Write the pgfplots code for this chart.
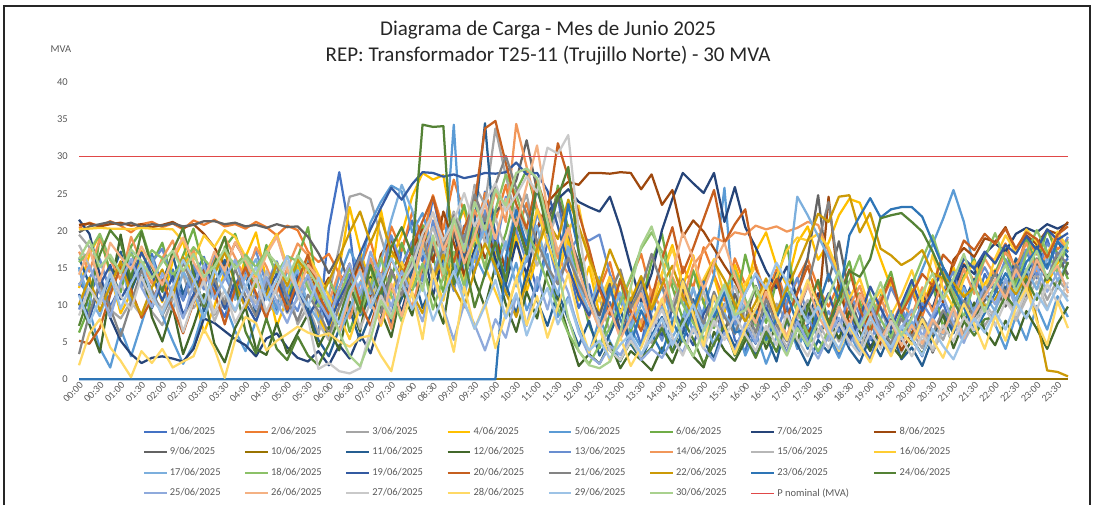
\documentclass[border=0pt]{standalone}
\usepackage{fontspec}
\setmainfont{Carlito}
\usepackage{pgfplots}
\pgfplotsset{compat=1.18}
\pgfplotsset{legend image code/.code={\draw[#1] (0pt,0pt) -- (15pt,0pt);}}

\definecolor{c1}{HTML}{4472C4}\definecolor{c2}{HTML}{ED7D31}\definecolor{c3}{HTML}{A5A5A5}
\definecolor{c4}{HTML}{FFC000}\definecolor{c5}{HTML}{5B9BD5}\definecolor{c6}{HTML}{70AD47}
\definecolor{c7}{HTML}{264478}\definecolor{c8}{HTML}{9E480E}\definecolor{c9}{HTML}{636363}
\definecolor{c10}{HTML}{997300}\definecolor{c11}{HTML}{255E91}\definecolor{c12}{HTML}{43682B}
\definecolor{c13}{HTML}{698ED0}\definecolor{c14}{HTML}{F1975A}\definecolor{c15}{HTML}{B7B7B7}
\definecolor{c16}{HTML}{FFCD33}\definecolor{c17}{HTML}{7CAFDD}\definecolor{c18}{HTML}{8CC168}
\definecolor{c19}{HTML}{335AA1}\definecolor{c20}{HTML}{C65F1F}\definecolor{c21}{HTML}{848484}
\definecolor{c22}{HTML}{CC9A06}\definecolor{c23}{HTML}{2E75B6}\definecolor{c24}{HTML}{548235}
\definecolor{c25}{HTML}{8FAADC}\definecolor{c26}{HTML}{F4B183}\definecolor{c27}{HTML}{C9C9C9}
\definecolor{c28}{HTML}{FFD966}\definecolor{c29}{HTML}{9DC3E6}\definecolor{c30}{HTML}{A9D18E}
\definecolor{cred}{HTML}{E04848}
\definecolor{txt}{HTML}{595959}

% one series = 96 quarter-hour values
\newcommand{\ser}[2]{\addplot[#1] table[x expr=\coordindex, y index=0, header=false, row sep=\\] {#2};}

\begin{document}
\begin{tikzpicture}
\begin{axis}[
    name=ax, at={(0,0)}, anchor=south west,
    scale only axis, width=659.3pt, height=198pt,
    xmin=0, xmax=95, ymin=0, ymax=40, clip=false,
    axis line style={draw=none}, major tick length=0pt,
    ytick={0,5,...,40},
    xtick={0,2,...,94},
    xticklabels={00:00,00:30,01:00,01:30,02:00,02:30,03:00,03:30,04:00,04:30,05:00,05:30,
      06:00,06:30,07:00,07:30,08:00,08:30,09:00,09:30,10:00,10:30,11:00,11:30,
      12:00,12:30,13:00,13:30,14:00,14:30,15:00,15:30,16:00,16:30,17:00,17:30,
      18:00,18:30,19:00,19:30,20:00,20:30,21:00,21:30,22:00,22:30,23:00,23:30},
    xticklabel style={rotate=45, anchor=north east, font=\fontsize{6.8}{7.5}\selectfont, text=txt, inner sep=0.8pt},
    yticklabel style={font=\fontsize{7}{8}\selectfont, text=txt, xshift=-4pt},
    /pgf/number format/assume math mode=true,
    every axis plot/.append style={line width=1.5pt, line join=round},
    legend columns=8, legend cell align=left,
    legend style={at={(0.474,0)}, anchor=north, yshift=-28pt, draw=none, fill=none,
      font=\fontsize{7}{8}\selectfont, text=txt, row sep=4.3pt,
      nodes={inner sep=1.5pt},
      /tikz/every even column/.append style={column sep=14.2pt}},
    legend entries={1/06/2025,2/06/2025,3/06/2025,4/06/2025,5/06/2025,6/06/2025,7/06/2025,8/06/2025,
      9/06/2025,10/06/2025,11/06/2025,12/06/2025,13/06/2025,14/06/2025,15/06/2025,16/06/2025,
      17/06/2025,18/06/2025,19/06/2025,20/06/2025,21/06/2025,22/06/2025,23/06/2025,24/06/2025,
      25/06/2025,26/06/2025,27/06/2025,28/06/2025,29/06/2025,30/06/2025,P nominal (MVA)},
]
\ser{c1}{13.0\\11.5\\14.2\\9.8\\12.5\\15.8\\13.1\\16.9\\
12.4\\14.8\\10.6\\13.9\\16.5\\11.2\\8.4\\12.7\\
15.3\\10.9\\13.6\\9.2\\11.8\\14.4\\8.7\\6.1\\
20.4\\27.9\\19.9\\8.6\\10.9\\14.3\\8.2\\17.6\\
21.4\\15.9\\24.6\\18.2\\13.5\\20.7\\16.4\\25.3\\
19.8\\14.6\\22.1\\17.3\\11.9\\18.5\\24.7\\15.2\\
9.6\\12.8\\7.3\\10.4\\5.9\\8.8\\4.6\\11.3\\
6.2\\9.7\\13.5\\8.1\\4.9\\7.6\\11.8\\5.3\\
3.8\\8.5\\12.2\\6.7\\9.9\\4.1\\7.4\\10.8\\
6.3\\3.2\\8.9\\5.1\\2.7\\6.8\\4.4\\9.2\\
5.6\\3.1\\7.9\\10.3\\6.5\\12.6\\9.1\\14.2\\
11.7\\15.8\\10.2\\17.4\\13.6\\18.9\\14.8\\16.3\\}
\ser{c2}{20.4\\21.1\\20.6\\21.3\\20.7\\19.8\\20.9\\21.2\\
20.5\\21.0\\20.2\\21.4\\20.8\\21.5\\20.6\\20.9\\
20.3\\21.2\\20.5\\19.4\\20.7\\20.1\\17.2\\15.8\\
16.9\\14.2\\12.5\\15.1\\18.7\\13.4\\20.6\\17.3\\
22.5\\19.1\\24.8\\20.2\\26.9\\22.4\\18.7\\25.1\\
21.3\\26.2\\19.5\\23.8\\17.6\\22.9\\16.4\\20.8\\
14.5\\17.2\\12.1\\15.8\\10.3\\13.6\\16.9\\11.4\\
13.8\\9.7\\15.2\\12.4\\17.8\\14.1\\10.6\\16.3\\
12.7\\15.4\\11.2\\14.8\\10.1\\13.5\\16.2\\12.3\\
9.8\\12.9\\8.4\\11.6\\7.1\\10.2\\13.4\\9.3\\
11.8\\8.5\\12.4\\14.7\\10.9\\15.6\\13.2\\17.1\\
15.9\\18.3\\14.6\\19.2\\16.8\\20.1\\17.5\\18.9\\}
\ser{c3}{19.5\\17.8\\12.6\\9.4\\8.2\\10.5\\13.9\\9.1\\
7.3\\10.8\\14.2\\9.6\\11.4\\8.7\\10.2\\12.5\\
9.8\\11.6\\8.9\\10.3\\12.7\\7.4\\9.9\\6.2\\
11.4\\17.8\\24.6\\25.0\\24.3\\19.2\\14.5\\11.8\\
16.3\\20.7\\13.9\\18.4\\22.6\\17.1\\26.2\\23.5\\
33.8\\27.4\\21.6\\24.9\\18.3\\22.1\\16.8\\19.5\\
12.2\\8.6\\10.9\\6.4\\9.3\\5.7\\8.1\\4.9\\
7.2\\10.5\\6.3\\9.1\\5.2\\8.4\\11.7\\7.6\\
5.4\\8.9\\6.1\\10.2\\7.7\\4.6\\9.3\\6.5\\
8.2\\5.1\\7.4\\4.3\\6.9\\9.8\\5.6\\3.7\\
6.4\\4.2\\7.8\\5.3\\8.9\\6.1\\10.4\\7.2\\
9.5\\12.1\\8.3\\11.6\\14.2\\10.7\\13.4\\11.9\\}
\ser{c4}{12.3\\16.8\\19.5\\14.2\\8.9\\11.6\\17.3\\13.8\\
10.4\\15.9\\18.7\\12.1\\6.3\\9.8\\14.6\\11.2\\
16.5\\19.8\\13.4\\7.2\\10.9\\15.3\\12.7\\8.4\\
5.6\\14.9\\23.2\\17.4\\12.8\\22.8\\16.1\\19.5\\
24.6\\27.8\\26.9\\27.5\\19.3\\23.1\\15.8\\21.7\\
17.2\\13.6\\19.4\\11.8\\16.5\\22.3\\14.1\\18.9\\
10.6\\15.2\\8.7\\13.9\\11.4\\7.5\\12.8\\9.6\\
14.3\\18.1\\12.5\\16.7\\10.2\\13.8\\8.9\\15.4\\
11.6\\17.2\\19.8\\15.3\\12.7\\18.4\\20.6\\16.1\\
18.4\\22.1\\24.3\\23.8\\20.1\\16.2\\12.4\\9.6\\
12.2\\9.8\\13.5\\10.6\\15.1\\11.4\\8.7\\12.9\\
14.8\\11.3\\16.2\\13.7\\18.5\\12.9\\15.6\\17.8\\}
\ser{c5}{15.1\\9.3\\4.2\\1.6\\6.8\\3.1\\7.5\\11.9\\
8.6\\5.2\\2.1\\4.7\\9.4\\13.2\\10.1\\6.5\\
3.8\\7.9\\12.4\\9.6\\14.8\\11.1\\16.3\\12.7\\
9.2\\13.8\\17.5\\14.6\\21.1\\23.9\\26.1\\25.3\\
19.8\\22.4\\17.6\\14.9\\34.3\\12.1\\16.8\\13.9\\
18.2\\11.4\\15.7\\9.3\\12.6\\16.9\\8.4\\11.1\\
6.8\\3.5\\8.2\\5.1\\2.4\\6.7\\4.3\\9.1\\
12.5\\7.8\\11.3\\6.2\\9.4\\14.1\\25.8\\8.6\\
3.2\\6.4\\2.1\\5.7\\8.3\\4.2\\7.1\\3.5\\
5.8\\2.9\\6.3\\3.4\\7.6\\4.8\\9.2\\6.1\\
11.3\\14.8\\18.2\\21.6\\25.5\\21.2\\14.8\\9.7\\
7.4\\4.1\\8.6\\5.3\\9.9\\6.7\\11.2\\8.4\\}
\ser{c6}{6.3\\9.8\\19.2\\14.5\\11.7\\17.9\\20.1\\15.6\\
18.4\\13.2\\16.7\\20.3\\14.9\\11.5\\17.8\\19.6\\
15.2\\12.4\\18.1\\13.7\\9.6\\16.4\\20.5\\11.3\\
8.7\\12.1\\6.4\\10.8\\15.3\\9.2\\13.6\\18.4\\
14.2\\20.8\\16.5\\11.7\\19.3\\23.5\\17.8\\21.6\\
15.4\\19.7\\25.3\\28.2\\22.6\\18.4\\26.1\\20.3\\
12.7\\7.3\\4.2\\8.9\\13.6\\6.5\\10.2\\15.8\\
19.6\\12.4\\8.1\\14.7\\10.3\\6.9\\12.5\\9.2\\
16.8\\11.4\\7.6\\13.2\\18.1\\9.8\\5.4\\10.7\\
7.3\\12.6\\15.9\\10.4\\6.8\\11.2\\14.5\\8.7\\
5.9\\9.4\\12.8\\7.1\\10.6\\13.9\\16.2\\11.5\\
14.3\\17.6\\12.9\\19.1\\15.4\\20.2\\16.8\\13.5\\}
\ser{c7}{21.5\\19.6\\14.1\\8.3\\5.2\\3.4\\2.2\\2.9\\
3.1\\2.8\\2.4\\4.1\\8.2\\7.6\\6.5\\5.4\\
4.6\\3.1\\5.5\\6.2\\4.3\\2.9\\2.4\\3.8\\
1.9\\4.6\\2.8\\6.1\\3.5\\8.2\\12.4\\9.1\\
14.6\\18.3\\11.2\\16.7\\20.1\\13.8\\17.4\\21.5\\
16.2\\12.8\\18.5\\14.1\\20.3\\22.4\\24.3\\25.6\\
23.9\\23.2\\22.6\\24.6\\20.4\\15.1\\10.3\\14.2\\
20.1\\24.3\\27.8\\26.4\\25.1\\27.8\\21.2\\25.9\\
20.5\\17.8\\14.6\\12.3\\15.2\\10.8\\8.4\\11.6\\
7.2\\9.8\\5.6\\8.1\\4.3\\6.7\\3.9\\5.2\\
8.4\\11.3\\9.6\\13.8\\12.1\\15.4\\14.2\\16.9\\
18.3\\17.2\\19.6\\20.4\\19.8\\20.9\\20.3\\21.0\\}
\ser{c8}{20.8\\21.0\\20.6\\20.9\\21.1\\20.7\\20.9\\20.5\\
20.8\\21.2\\20.4\\20.9\\19.6\\17.8\\15.2\\18.4\\
16.1\\13.4\\17.2\\19.5\\14.8\\12.1\\15.6\\11.3\\
13.7\\9.8\\12.4\\15.9\\11.2\\16.8\\18.9\\14.3\\
17.5\\20.2\\15.8\\22.6\\18.4\\13.9\\20.7\\16.3\\
19.1\\14.7\\21.5\\17.2\\20.3\\23.8\\25.4\\26.6\\
26.2\\27.8\\27.8\\27.7\\27.9\\27.8\\25.6\\27.6\\
23.5\\25.5\\19.2\\21.4\\19.9\\17.6\\15.3\\13.2\\
10.6\\8.4\\12.3\\7.1\\5.8\\9.6\\6.2\\8.7\\
24.6\\12.3\\7.5\\5.2\\9.4\\4.6\\7.8\\3.9\\
6.2\\9.5\\12.8\\10.4\\16.1\\17.7\\16.5\\19.0\\
18.5\\20.5\\17.1\\19.4\\18.2\\20.1\\19.6\\21.2\\}
\ser{c9}{19.8\\20.6\\20.9\\21.2\\20.8\\21.1\\20.5\\20.9\\
20.7\\21.0\\20.6\\20.8\\21.3\\21.3\\20.9\\21.1\\
20.6\\20.8\\20.4\\20.9\\20.5\\20.6\\19.2\\17.0\\
14.3\\16.8\\12.5\\9.6\\13.2\\10.4\\14.7\\11.8\\
15.6\\12.3\\17.9\\14.5\\19.8\\16.2\\21.4\\18.7\\
22.5\\24.1\\26.8\\32.2\\25.4\\21.3\\24.7\\19.6\\
15.8\\11.2\\8.6\\12.9\\6.4\\9.7\\13.1\\7.5\\
10.3\\6.8\\12.1\\8.4\\4.7\\9.2\\6.1\\11.5\\
7.9\\12.6\\9.1\\14.3\\8.5\\11.8\\16.4\\24.8\\
13.2\\18.6\\11.4\\7.2\\9.8\\5.4\\8.1\\6.3\\
4.8\\7.5\\3.6\\6.9\\9.2\\5.7\\8.4\\10.6\\
12.3\\9.8\\14.5\\11.2\\15.8\\13.4\\16.7\\14.1\\}
\ser{c10}{0\\0\\0\\0\\0\\0\\0\\0\\0\\0\\0\\0\\0\\0\\0\\0\\0\\0\\0\\0\\0\\0\\0\\0\\
0\\0\\0\\0\\0\\0\\0\\0\\0\\0\\0\\0\\0\\0\\0\\0\\0\\0\\0\\0\\0\\0\\0\\0\\
0\\0\\0\\0\\0\\0\\0\\0\\0\\0\\0\\0\\0\\0\\0\\0\\0\\0\\0\\0\\0\\0\\0\\0\\
0\\0\\0\\0\\0\\0\\0\\0\\0\\0\\0\\0\\0\\0\\0\\0\\0\\0\\0\\0\\0\\0\\0\\0\\}
\ser{c11}{16.4\\12.8\\10.3\\13.7\\17.2\\11.9\\15.4\\9.6\\
13.1\\16.8\\11.4\\14.9\\9.2\\12.6\\16.1\\10.8\\
14.3\\8.7\\11.9\\15.6\\10.2\\13.8\\9.4\\5.3\\
3.1\\6.8\\9.4\\5.2\\8.7\\12.3\\7.5\\10.9\\
14.8\\9.6\\13.2\\17.5\\12.4\\16.9\\21.3\\34.5\\
18.2\\12.7\\8.9\\14.3\\10.6\\7.2\\11.8\\8.1\\
4.5\\7.9\\3.2\\6.1\\9.5\\4.8\\2.6\\5.9\\
8.4\\3.7\\6.2\\10.8\\5.1\\2.9\\7.3\\4.4\\
6.8\\3.2\\5.9\\2.4\\8.1\\4.7\\1.9\\5.3\\
3.6\\7.2\\4.1\\2.2\\5.8\\3.1\\6.5\\2.7\\
4.3\\1.8\\5.6\\8.9\\6.2\\10.4\\13.5\\11.2\\
14.6\\12.1\\16.3\\13.8\\17.9\\15.2\\18.6\\16.4\\}
\ser{c12}{10.2\\7.4\\3.6\\11.8\\19.5\\12.3\\15.7\\8.4\\
5.1\\9.8\\3.4\\7.2\\11.5\\4.8\\2.3\\6.9\\
9.7\\4.1\\3.3\\7.6\\3.5\\6.2\\8.8\\4.4\\
7.1\\3.9\\10.5\\6.4\\13.8\\9.2\\5.7\\12.1\\
8.6\\14.9\\11.3\\7.5\\16.2\\19.8\\13.4\\9.7\\
15.3\\10.1\\6.4\\11.8\\8.2\\14.6\\10.9\\6.3\\
1.8\\3.4\\2.1\\4.9\\1.5\\3.8\\2.6\\1.2\\
4.3\\2.2\\5.7\\3.1\\1.6\\6.4\\3.9\\2.5\\
5.2\\8.6\\4.1\\7.3\\3.4\\6.8\\10.2\\5.9\\
8.1\\5.5\\9.2\\6.4\\3.8\\7.1\\4.6\\2.9\\
5.3\\3.4\\6.1\\8.7\\4.2\\7.8\\10.3\\6.6\\
4.6\\7.9\\5.3\\9.2\\6.8\\4.1\\7.5\\9.8\\}
\ser{c13}{9.4\\13.6\\16.2\\11.8\\14.9\\17.4\\12.5\\15.8\\
17.6\\13.2\\10.7\\15.4\\12.1\\16.8\\13.9\\11.2\\
14.7\\17.3\\12.8\\15.9\\11.4\\9.2\\13.6\\10.1\\
7.8\\11.5\\14.2\\9.6\\16.1\\12.7\\19.4\\15.3\\
18.6\\13.2\\21.4\\16.7\\11.9\\19.5\\14.3\\22.8\\
17.4\\24.6\\20.1\\15.8\\22.3\\18.7\\13.2\\16.9\\
19.3\\18.7\\19.5\\14.2\\10.6\\7.3\\11.8\\8.4\\
5.2\\9.6\\6.8\\12.3\\8.1\\4.5\\10.2\\7.4\\
11.6\\14.2\\9.8\\6.1\\10.5\\13.7\\8.3\\5.6\\
9.2\\6.4\\11.8\\8.7\\5.3\\7.9\\12.4\\9.6\\
6.8\\10.3\\8.1\\11.9\\14.5\\9.7\\12.6\\15.1\\
12.4\\16.2\\13.8\\17.5\\14.1\\18.3\\16.6\\19.2\\}
\ser{c14}{17.2\\14.5\\18.9\\16.1\\13.4\\19.2\\15.7\\12.9\\
16.3\\18.7\\14.2\\17.5\\12.8\\15.9\\19.1\\16.4\\
13.5\\17.8\\15.2\\11.6\\14.9\\18.3\\16.7\\13.1\\
10.4\\14.6\\8.2\\12.9\\16.3\\11.5\\6.8\\13.4\\
9.7\\15.2\\18.9\\13.4\\20.6\\17.1\\22.8\\19.4\\
25.3\\21.2\\34.4\\28.6\\23.1\\19.7\\16.4\\14.2\\
11.8\\8.3\\13.6\\9.5\\6.2\\10.7\\7.4\\12.1\\
9.3\\13.8\\10.6\\15.4\\17.2\\19.1\\18.5\\19.8\\
19.5\\20.7\\20.2\\20.6\\19.9\\20.4\\21.2\\20.8\\
17.2\\13.5\\9.8\\12.6\\8.4\\11.1\\7.3\\10.2\\
8.6\\12.4\\9.1\\13.7\\10.8\\14.9\\11.5\\16.3\\
13.9\\17.1\\15.2\\18.4\\14.6\\16.9\\19.3\\17.2\\}
\ser{c15}{18.1\\15.3\\11.7\\9.2\\12.8\\10.4\\8.6\\11.3\\
9.5\\12.6\\8.3\\10.9\\13.4\\7.8\\11.2\\9.1\\
12.4\\10.2\\14.6\\11.5\\8.9\\10.8\\13.2\\7.6\\
5.3\\9.7\\12.1\\6.8\\10.4\\14.2\\8.5\\11.9\\
13.6\\17.2\\20.5\\16.3\\22.4\\19.8\\25.6\\18.2\\
21.7\\17.4\\23.2\\19.6\\15.3\\18.9\\22.5\\17.1\\
13.4\\10.2\\7.6\\11.8\\14.6\\9.3\\12.7\\8.5\\
6.2\\10.1\\13.4\\8.7\\11.9\\7.2\\9.8\\12.6\\
8.4\\5.6\\9.2\\6.8\\4.3\\8.1\\10.7\\7.5\\
5.2\\9.4\\6.6\\4.1\\7.8\\5.5\\3.2\\6.3\\
4.7\\7.2\\3.8\\6.4\\8.9\\5.1\\7.6\\10.2\\
8.3\\11.5\\7.9\\10.8\\13.2\\9.6\\12.4\\11.1\\}
\ser{c16}{20.2\\20.3\\20.4\\20.3\\20.3\\20.2\\20.4\\20.3\\
20.3\\20.2\\18.6\\16.1\\19.4\\17.8\\20.1\\19.2\\
16.5\\13.8\\17.2\\19.6\\15.3\\12.4\\16.8\\14.1\\
11.2\\8.6\\5.4\\9.8\\13.5\\7.2\\11.6\\15.8\\
12.4\\18.7\\14.3\\10.6\\16.9\\13.1\\19.5\\15.2\\
11.8\\8.4\\13.6\\17.2\\22.9\\18.3\\14.6\\19.8\\
23.4\\16.2\\10.5\\13.8\\8.9\\12.3\\6.7\\10.4\\
14.1\\17.6\\12.8\\9.3\\13.5\\16.2\\11.4\\8.7\\
12.9\\15.3\\10.6\\13.8\\17.4\\19.1\\18.7\\19.6\\
17.8\\14.2\\10.9\\13.6\\9.4\\12.1\\8.6\\11.3\\
14.7\\10.5\\16.8\\12.2\\9.7\\13.5\\15.9\\11.8\\
16.3\\19.4\\17.1\\20.2\\18.5\\16.8\\19.9\\17.6\\}
\ser{c17}{14.8\\11.2\\8.5\\12.9\\15.6\\10.3\\13.7\\16.4\\
12.1\\9.3\\14.6\\11.8\\8.2\\12.5\\15.1\\10.7\\
13.9\\16.2\\11.4\\8.8\\12.3\\14.7\\10.1\\7.9\\
10.6\\6.2\\9.4\\13.1\\11.5\\15.8\\21.5\\26.2\\
22.8\\17.4\\13.9\\19.2\\15.6\\11.3\\16.8\\20.4\\
14.2\\18.6\\12.5\\16.3\\20.7\\15.1\\11.4\\17.9\\
12.6\\9.2\\13.8\\8.4\\11.7\\6.9\\10.3\\7.1\\
9.8\\5.6\\8.3\\12.4\\7.2\\4.8\\8.9\\6.3\\
10.4\\7.7\\5.2\\9.1\\12.8\\24.6\\22.1\\19.3\\
16.5\\13.5\\9.7\\7.4\\10.8\\6.2\\8.9\\5.5\\
7.8\\4.9\\8.2\\6.1\\9.5\\12.3\\8.7\\11.4\\
9.2\\13.6\\10.5\\14.9\\12.1\\16.4\\13.3\\15.7\\}
\ser{c18}{15.8\\17.2\\19.6\\16.1\\14.8\\16.9\\15.2\\17.4\\
16.3\\14.1\\15.7\\17.8\\16.2\\14.6\\17.1\\15.4\\
16.8\\15.1\\17.3\\14.2\\16.6\\15.9\\12.3\\9.8\\
13.4\\10.7\\15.2\\8.9\\12.6\\16.4\\11.3\\7.8\\
11.9\\15.6\\9.4\\13.8\\17.2\\12.5\\20.6\\14.9\\
22.8\\27.6\\24.9\\20.3\\16.8\\13.1\\9.6\\6.2\\
3.8\\2.1\\4.6\\6.9\\10.4\\13.8\\17.6\\19.8\\
17.2\\13.4\\10.1\\7.6\\5.3\\8.2\\11.9\\14.6\\
10.8\\7.3\\4.9\\8.6\\12.4\\9.1\\6.2\\3.8\\
6.5\\9.8\\13.2\\16.7\\11.4\\8.1\\5.6\\9.3\\
12.7\\16.2\\19.4\\15.1\\11.6\\8.4\\12.9\\16.3\\
19.7\\15.8\\12.4\\16.9\\20.1\\17.2\\14.3\\18.6\\}
\ser{c19}{11.5\\8.2\\12.7\\15.4\\10.8\\13.3\\17.1\\14.2\\
10.6\\13.9\\8.7\\11.4\\15.2\\12.8\\9.5\\13.1\\
10.3\\7.8\\11.6\\14.2\\9.1\\12.5\\8.4\\10.9\\
7.3\\10.8\\13.5\\16.9\\20.2\\23.1\\25.8\\24.2\\
26.3\\27.9\\27.8\\27.3\\27.6\\27.1\\27.4\\27.8\\
27.7\\27.9\\29.2\\27.6\\27.8\\25.4\\20.6\\15.3\\
11.2\\8.6\\12.4\\9.1\\6.7\\10.3\\13.6\\8.2\\
5.9\\9.4\\7.1\\4.6\\8.8\\11.2\\6.3\\3.9\\
7.4\\4.8\\9.6\\6.2\\3.5\\7.9\\5.1\\8.4\\
11.6\\7.3\\4.9\\8.2\\12.5\\9.6\\6.8\\10.1\\
13.4\\9.2\\11.8\\15.1\\12.7\\16.3\\14.9\\17.2\\
15.6\\18.1\\16.9\\19.3\\17.4\\20.2\\18.8\\19.7\\}
\ser{c20}{5.2\\4.8\\6.9\\11.4\\15.2\\12.1\\8.3\\10.7\\
13.4\\9.6\\6.2\\10.3\\14.7\\11.8\\7.4\\12.2\\
15.1\\11.6\\8.2\\12.9\\9.4\\13.3\\16.8\\11.5\\
8.7\\12.4\\15.6\\10.3\\7.2\\11.9\\16.2\\13.4\\
17.8\\21.3\\24.6\\19.2\\15.8\\20.4\\23.7\\33.8\\
34.8\\29.1\\23.6\\20.3\\26.8\\22.5\\31.8\\27.2\\
22.4\\17.6\\12.1\\8.7\\13.4\\9.2\\6.5\\10.8\\
16.2\\20.5\\14.3\\17.7\\21.6\\25.5\\18.4\\20.9\\
22.9\\15.1\\10.7\\13.5\\8.2\\11.6\\15.3\\10.1\\
7.6\\11.2\\14.8\\9.5\\6.3\\10.4\\13.7\\8.9\\
11.5\\14.2\\12.6\\16.8\\15.3\\18.7\\17.4\\19.6\\
18.2\\20.3\\17.6\\19.8\\18.9\\16.4\\19.5\\20.6\\}
\ser{c21}{3.4\\8.9\\13.1\\9.6\\5.8\\10.2\\14.7\\12.1\\
8.6\\11.4\\15.8\\12.3\\9.7\\13.6\\10.1\\14.9\\
11.2\\8.5\\12.8\\15.3\\10.6\\7.9\\11.4\\9.2\\
6.1\\9.8\\13.2\\16.5\\12.4\\8.9\\14.7\\11.3\\
15.9\\19.4\\13.6\\17.8\\22.1\\18.5\\24.9\\21.3\\
26.2\\30.1\\25.7\\22.4\\18.6\\15.2\\12.8\\16.4\\
13.1\\10.4\\7.2\\11.5\\14.8\\9.6\\12.2\\16.9\\
12.6\\9.1\\13.4\\10.2\\7.5\\11.8\\8.4\\6.1\\
9.7\\6.3\\10.8\\7.4\\5.1\\8.9\\12.6\\18.4\\
23.9\\14.2\\9.6\\6.8\\10.3\\7.1\\4.8\\8.2\\
5.7\\8.4\\6.1\\9.3\\7.2\\10.6\\8.5\\11.9\\
14.2\\11.6\\15.4\\12.8\\16.3\\13.5\\17.1\\15.4\\}
\ser{c22}{10.1\\13.7\\9.2\\12.6\\15.9\\11.3\\8.7\\12.4\\
14.8\\11.1\\16.5\\13.2\\10.4\\14.1\\17.2\\12.9\\
9.6\\13.4\\11.2\\15.7\\12.6\\16.1\\14.3\\10.8\\
13.2\\16.5\\19.8\\22.6\\18.4\\21.7\\17.3\\14.9\\
11.6\\8.9\\13.2\\16.8\\12.4\\9.7\\14.6\\18.3\\
15.2\\11.7\\8.4\\13.1\\17.6\\21.3\\18.9\\24.2\\
20.6\\16.4\\12.8\\17.5\\14.1\\10.6\\13.9\\9.4\\
12.7\\15.3\\11.2\\8.6\\12.9\\15.8\\13.4\\10.1\\
7.8\\10.4\\13.6\\9.2\\12.1\\15.4\\18.7\\22.3\\
21.2\\24.6\\24.8\\19.8\\22.4\\17.6\\16.7\\15.4\\
16.2\\17.4\\14.3\\13.6\\13.0\\11.1\\12.4\\9.8\\
10.8\\13.2\\11.5\\13.9\\8.2\\1.2\\1.0\\0.4\\}
\ser{c23}{0\\0\\0\\0\\0\\0\\0\\0\\0\\0\\0\\0\\0\\0\\0\\0\\0\\0\\0\\0\\
0\\0\\0\\0\\0\\0\\0\\0\\0\\0\\0\\0\\0\\0\\0\\0\\0\\0\\0\\0\\
0\\16.4\\22.8\\18.1\\25.9\\20.4\\14.7\\23.6\\
17.2\\10.5\\6.8\\12.4\\8.1\\4.6\\9.3\\6.2\\
3.5\\7.8\\5.1\\9.6\\13.2\\8.4\\11.8\\6.3\\
6.7\\9.5\\5.3\\8.2\\11.6\\7.4\\4.1\\9.8\\
14.2\\10.6\\19.4\\22.0\\24.4\\21.8\\22.9\\23.2\\
23.2\\21.9\\18.5\\15.1\\12.4\\9.7\\6.5\\8.9\\
11.6\\14.3\\12.1\\15.8\\17.4\\14.9\\18.6\\17.1\\}
\ser{c24}{7.2\\11.5\\16.8\\20.1\\18.4\\13.6\\19.9\\15.1\\
11.8\\17.3\\20.4\\14.2\\9.8\\15.6\\19.2\\12.7\\
6.4\\3.5\\8.2\\4.1\\2.6\\5.8\\3.2\\1.9\\
4.7\\8.3\\12.6\\9.1\\15.4\\11.2\\17.8\\20.5\\
16.8\\34.3\\34.0\\34.1\\12.8\\16.3\\9.7\\14.2\\
18.5\\13.2\\21.4\\16.8\\26.3\\19.7\\24.5\\28.6\\
17.2\\11.4\\6.8\\3.9\\2.5\\5.1\\2.8\\4.3\\
6.9\\3.6\\8.2\\5.4\\2.1\\4.8\\7.3\\3.2\\
5.8\\2.9\\6.4\\3.7\\8.1\\5.2\\9.6\\13.4\\
7.4\\10.8\\14.6\\13.8\\16.2\\21.7\\22.1\\22.4\\
21.2\\19.9\\17.2\\14.0\\10.6\\7.8\\5.9\\8.1\\
8.4\\11.2\\9.6\\13.5\\10.7\\14.1\\12.3\\15.8\\}
\ser{c25}{12.6\\15.3\\11.8\\8.4\\13.1\\16.2\\12.4\\9.7\\
14.3\\11.6\\8.2\\12.9\\15.4\\10.8\\13.6\\16.1\\
12.2\\9.5\\13.8\\10.4\\7.6\\11.3\\14.1\\10.6\\
8.2\\12.3\\15.6\\11.4\\17.2\\13.5\\9.8\\14.6\\
11.2\\7.8\\13.4\\9.6\\5.3\\10.2\\7.4\\3.9\\
8.1\\5.6\\11.3\\7.2\\13.8\\9.4\\15.1\\11.7\\
6.3\\3.2\\2.1\\4.5\\3.3\\5.8\\2.6\\4.1\\
2.9\\5.4\\3.6\\7.1\\4.2\\2.5\\6.3\\3.8\\
7.6\\4.9\\9.1\\6.3\\3.4\\7.8\\5.1\\2.8\\
5.9\\8.3\\4.6\\7.2\\10.1\\6.4\\3.7\\6.9\\
9.4\\5.8\\8.7\\11.2\\7.6\\4.9\\9.3\\12.5\\
10.1\\13.4\\9.7\\12.6\\15.2\\11.8\\14.4\\12.3\\}
\ser{c26}{14.1\\17.6\\13.2\\18.4\\16.5\\14.8\\17.9\\15.3\\
12.7\\16.4\\19.1\\15.8\\13.3\\17.2\\14.6\\18.5\\
15.9\\13.1\\16.8\\19.2\\14.7\\11.8\\15.4\\13.6\\
9.8\\6.4\\11.2\\14.8\\10.3\\7.6\\12.9\\8.5\\
13.6\\18.2\\22.5\\17.4\\20.8\\15.6\\19.3\\23.7\\
18.9\\24.3\\20.6\\26.1\\31.5\\22.8\\17.2\\20.4\\
14.6\\10.2\\6.8\\9.7\\5.4\\8.3\\11.6\\7.2\\
10.5\\14.2\\19.8\\16.3\\12.1\\15.7\\18.4\\13.9\\
10.2\\7.6\\11.8\\8.4\\5.9\\9.3\\12.7\\8.6\\
6.1\\9.8\\7.2\\11.4\\8.6\\5.3\\7.9\\4.6\\
7.3\\4.8\\8.1\\6.2\\9.7\\5.5\\8.8\\11.2\\
13.5\\10.9\\14.8\\12.2\\16.1\\13.7\\15.3\\11.6\\}
\ser{c27}{8.6\\12.3\\10.1\\14.5\\11.2\\9.4\\13.8\\10.7\\
9.2\\11.8\\6.4\\10.5\\13.2\\8.9\\12.1\\7.6\\
10.3\\13.6\\9.1\\12.4\\15.8\\11.5\\8.2\\1.4\\
2.2\\1.1\\0.8\\1.5\\6.7\\11.3\\8.4\\12.9\\
15.2\\19.6\\22.4\\18.7\\21.3\\25.1\\20.6\\23.9\\
26.4\\22.7\\24.8\\27.3\\25.2\\31.2\\30.4\\32.9\\
20.1\\11.4\\7.3\\3.9\\2.6\\5.2\\3.1\\6.8\\
9.4\\5.7\\3.2\\6.8\\4.1\\7.9\\5.3\\8.6\\
6.1\\3.8\\7.2\\4.6\\8.9\\5.4\\3.1\\6.7\\
4.2\\7.6\\5.1\\3.3\\6.5\\4.1\\7.8\\5.6\\
3.1\\5.9\\4.2\\7.3\\5.1\\8.4\\6.6\\9.7\\
7.2\\10.5\\8.6\\11.9\\9.4\\12.8\\10.3\\13.1\\}
\ser{c28}{1.9\\6.2\\8.1\\4.3\\2.5\\0.3\\3.8\\2.2\\
4.1\\1.6\\2.4\\3.1\\6.8\\4.2\\0.2\\5.3\\
8.4\\7.6\\3.9\\5.2\\6.1\\7.1\\6.3\\5.8\\
6.2\\5.1\\4.4\\5.6\\5.9\\3.2\\1.1\\7.4\\
11.8\\5.4\\14.6\\9.2\\3.7\\12.5\\6.8\\10.3\\
4.2\\8.9\\13.6\\7.3\\11.2\\5.6\\9.8\\14.3\\
8.1\\3.6\\6.9\\2.4\\5.7\\1.8\\4.3\\7.6\\
10.9\\6.4\\13.2\\8.7\\4.5\\11.3\\7.1\\3.4\\
6.8\\9.5\\12.9\\8.2\\5.3\\9.7\\13.4\\10.1\\
6.9\\3.8\\7.2\\4.5\\2.3\\5.8\\3.1\\6.4\\
4.7\\8.1\\5.3\\2.9\\6.6\\10.2\\7.4\\4.1\\
8.6\\5.2\\9.7\\12.3\\7.8\\4.6\\10.5\\6.9\\}
\ser{c29}{11.3\\7.6\\10.8\\14.2\\9.5\\12.9\\15.6\\11.4\\
8.7\\12.4\\16.1\\13.5\\10.2\\14.8\\11.9\\9.3\\
12.6\\15.1\\10.7\\13.4\\16.6\\12.2\\9.8\\13.7\\
10.1\\7.4\\11.8\\14.5\\9.6\\12.8\\16.3\\13.1\\
9.4\\12.7\\7.9\\11.3\\14.6\\10.5\\6.8\\9.9\\
13.4\\8.2\\11.6\\5.9\\9.7\\12.3\\7.4\\10.8\\
6.4\\3.9\\5.2\\2.8\\4.7\\6.1\\3.4\\5.5\\
8.2\\4.6\\7.3\\10.1\\6.5\\9.2\\12.4\\8.1\\
11.6\\14.3\\12.2\\15.7\\13.1\\10.4\\7.6\\9.8\\
6.3\\4.1\\7.5\\5.2\\8.4\\6.1\\4.3\\7.2\\
5.4\\3.2\\6.8\\4.5\\2.7\\5.9\\8.2\\6.3\\
9.1\\6.7\\10.4\\8.2\\11.6\\9.3\\12.7\\10.5\\}
\ser{c30}{16.2\\18.7\\15.1\\16.8\\14.3\\17.5\\15.9\\13.6\\
15.8\\17.3\\14.6\\16.9\\13.8\\15.2\\17.6\\14.9\\
16.4\\14.1\\17.2\\15.6\\13.3\\16.7\\14.8\\12.5\\
9.7\\6.3\\3.2\\1.8\\5.4\\10.6\\8.2\\13.1\\
16.5\\11.9\\19.4\\14.2\\21.7\\17.3\\23.9\\20.1\\
25.6\\23.4\\27.8\\28.4\\27.1\\21.3\\14.6\\8.2\\
3.8\\1.9\\1.5\\2.4\\6.3\\12.4\\17.9\\20.6\\
16.1\\9.7\\5.4\\3.1\\6.6\\9.5\\12.8\\8.7\\
9.3\\12.5\\8.8\\5.7\\3.2\\6.9\\4.5\\7.8\\
11.2\\14.6\\10.3\\6.8\\9.5\\13.1\\8.6\\5.9\\
8.2\\11.7\\14.3\\10.8\\13.6\\16.9\\12.4\\9.1\\
12.8\\15.4\\11.9\\14.7\\17.3\\13.6\\16.1\\18.4\\}
\addplot[cred, line width=0.8pt] coordinates {(0,30) (95,30)};
\end{axis}
\begin{scope}[shift={(ax.south west)}]
\node[font=\fontsize{14}{17}\selectfont, text=black!85] at (312.7pt,232.9pt) {Diagrama de Carga - Mes de Junio 2025};
\node[font=\fontsize{14}{17}\selectfont, text=black!85] at (312.7pt,215.5pt) {REP: Transformador T25-11 (Trujillo Norte) - 30 MVA};
\node[font=\fontsize{7}{8}\selectfont, text=txt] at (-12pt,220pt) {MVA};
\draw[line width=0.9pt, black!85] (-50pt,-83.8pt) -- (-50pt,248.9pt) -- (674pt,248.9pt) -- (674pt,-83.8pt);
\pgfresetboundingbox
\path[use as bounding box] (-52.67pt,-83.8pt) rectangle (679.3pt,252.9pt);
\end{scope}
\end{tikzpicture}
\end{document}
